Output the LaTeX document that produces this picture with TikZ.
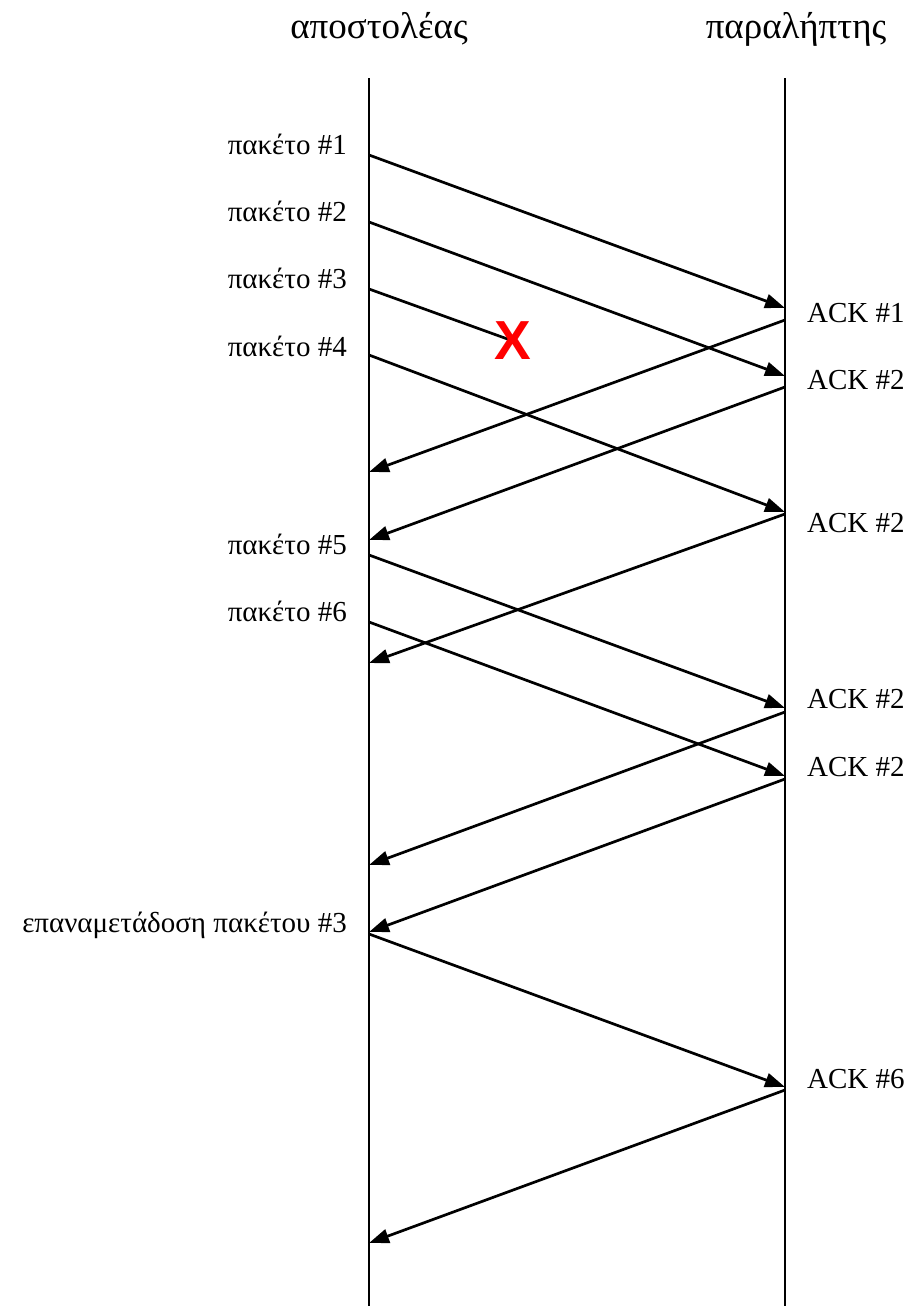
\documentclass[tikz,border=0pt]{standalone}
\usepackage{fontspec}
\setmainfont{Liberation Serif}
\newfontfamily\marksans{Liberation Sans}
\usetikzlibrary{arrows.meta}

\tikzset{
  lifeline/.style={line width=1.9pt},
  msg/.style={line width=2.7pt, -{Triangle[length=20pt,width=14pt]}},
  lostmsg/.style={line width=2.7pt},
  hdr/.style={font=\fontsize{37}{42}\selectfont, anchor=base},
  sndlbl/.style={font=\fontsize{29}{34}\selectfont, anchor=base east, inner sep=0pt},
  acklbl/.style={font=\fontsize{29}{34}\selectfont, anchor=base west, inner sep=0pt},
  lossmark/.style={font=\marksans\bfseries\fontsize{55}{58}\selectfont, text=red, inner sep=0pt},
}

\begin{document}
\begin{tikzpicture}[x=1pt,y=-1pt]
\useasboundingbox (0,0) rectangle (910,1306);

% headers
\node[hdr] (sender) at (379,39) {αποστολέας};
\node[hdr] (receiver) at (796,39) {παραλήπτης};

% lifelines
\coordinate (stop) at (369,78);
\coordinate (sbot) at (369,1306);
\coordinate (rtop) at (785,78);
\coordinate (rbot) at (785,1306);
\draw[lifeline] (stop) -- (sbot);
\draw[lifeline] (rtop) -- (rbot);

% sender-side points
\coordinate (p1) at (369,155);
\coordinate (p2) at (369,222);
\coordinate (p3) at (369,289);
\coordinate (p4) at (369,355);
\coordinate (a1) at (369,472);
\coordinate (a2) at (369,540);
\coordinate (p5) at (369,555);
\coordinate (p6) at (369,622);
\coordinate (a3) at (369,663);
\coordinate (a4) at (369,865);
\coordinate (a5) at (369,932);
\coordinate (p7) at (369,934);
\coordinate (a6) at (369,1243);

% receiver-side points
\coordinate (q1) at (785,308);
\coordinate (k1) at (785,320);
\coordinate (q2) at (785,376);
\coordinate (k2) at (785,387);
\coordinate (q4) at (785,512);
\coordinate (k3) at (785,514);
\coordinate (q5) at (785,708);
\coordinate (k4) at (785,712);
\coordinate (q6) at (785,776);
\coordinate (k5) at (785,779);
\coordinate (q7) at (785,1087);
\coordinate (k6) at (785,1090);

% lost packet
\coordinate (lostc) at (513,341);
\draw[lostmsg] (p3) -- (lostc);
\node[lossmark] (lost) at (lostc) {X};

% packets
\draw[msg] (p1) -- (q1);
\draw[msg] (p2) -- (q2);
\draw[msg] (p4) -- (q4);
\draw[msg] (p5) -- (q5);
\draw[msg] (p6) -- (q6);
\draw[msg] (p7) -- (q7);

% acknowledgements
\draw[msg] (k1) -- (a1);
\draw[msg] (k2) -- (a2);
\draw[msg] (k3) -- (a3);
\draw[msg] (k4) -- (a4);
\draw[msg] (k5) -- (a5);
\draw[msg] (k6) -- (a6);

% sender labels
\node[sndlbl] (l1) at (347,154) {πακέτο \#1};
\node[sndlbl] (l2) at (347,221) {πακέτο \#2};
\node[sndlbl] (l3) at (347,288) {πακέτο \#3};
\node[sndlbl] (l4) at (347,356) {πακέτο \#4};
\node[sndlbl] (l5) at (347,554) {πακέτο \#5};
\node[sndlbl] (l6) at (347,621) {πακέτο \#6};
\node[sndlbl] (l7) at (347,932) {επαναμετάδοση πακέτου \#3};

% receiver labels
\node[acklbl] (m1) at (807,322) {ACK \#1};
\node[acklbl] (m2) at (807,389) {ACK \#2};
\node[acklbl] (m3) at (807,532) {ACK \#2};
\node[acklbl] (m4) at (807,708) {ACK \#2};
\node[acklbl] (m5) at (807,776) {ACK \#2};
\node[acklbl] (m6) at (807,1088) {ACK \#6};
\end{tikzpicture}
\end{document}
